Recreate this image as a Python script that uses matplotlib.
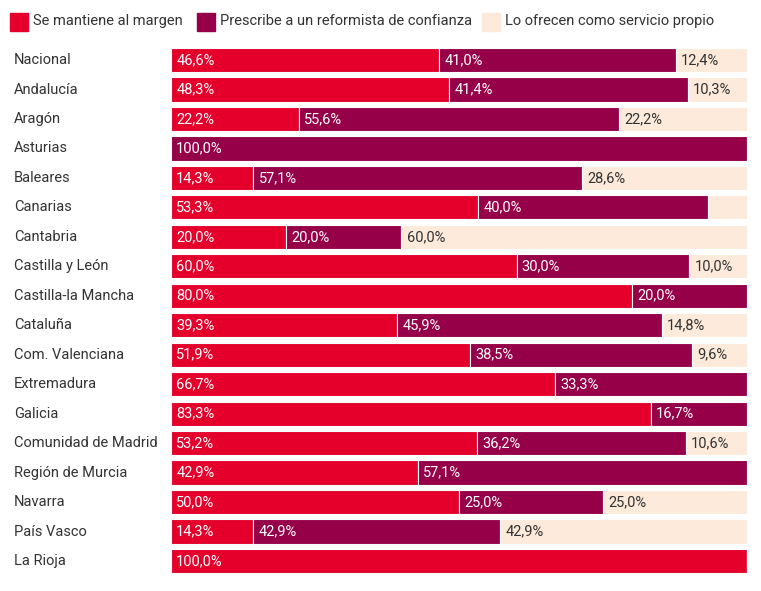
import matplotlib.pyplot as plt
from matplotlib.patches import Rectangle

plt.rcParams['font.family'] = ['Roboto', 'DejaVu Sans']

regiones = [
    'Nacional', 'Andalucía', 'Aragón', 'Asturias', 'Baleares', 'Canarias',
    'Cantabria', 'Castilla y León', 'Castilla-la Mancha', 'Cataluña',
    'Com. Valenciana', 'Extremadura', 'Galicia', 'Comunidad de Madrid',
    'Región de Murcia', 'Navarra', 'País Vasco', 'La Rioja']

margen = [46.6, 48.3, 22.2, 0.0, 14.3, 53.3, 20.0, 60.0, 80.0, 39.3,
          51.9, 66.7, 83.3, 53.2, 42.9, 50.0, 14.3, 100.0]
prescribe = [41.0, 41.4, 55.6, 100.0, 57.1, 40.0, 20.0, 30.0, 20.0, 45.9,
             38.5, 33.3, 16.7, 36.2, 57.1, 25.0, 42.9, 0.0]
propio = [12.4, 10.3, 22.2, 0.0, 28.6, 6.7, 60.0, 10.0, 0.0, 14.8,
          9.6, 0.0, 0.0, 10.6, 0.0, 25.0, 42.9, 0.0]

series = ['Se mantiene al margen', 'Prescribe a un reformista de confianza',
          'Lo ofrecen como servicio propio']
colores = ['#e4002b', '#960048', '#fdeadb']
txt_colores = ['white', 'white', '#333333']

# rows where the segment is drawn but not labelled
sin_etiqueta = {('Canarias', 2)}


def fmt(v):
    return f'{v:.1f}'.replace('.', ',') + '%'


fig = plt.figure(figsize=(7.61, 5.91), dpi=100)
ax = fig.add_axes([171 / 761, 1 - 575.7 / 591, 576 / 761, 530.4 / 591])

ypos = list(range(len(regiones)))
izq = [0.0] * len(regiones)
for k, vals in enumerate([margen, prescribe, propio]):
    ax.barh(ypos, vals, left=izq, height=0.82, color=colores[k],
            edgecolor='white', linewidth=0.8)
    for i, v in enumerate(vals):
        if v <= 0 or (regiones[i], k) in sin_etiqueta:
            continue
        ax.text(izq[i] + 0.9, i, fmt(v), va='center', ha='left',
                color=txt_colores[k], fontsize=10.5)
    izq = [a + b for a, b in zip(izq, vals)]

ax.set_xlim(0, 100)
ax.set_ylim(len(regiones) - 0.5, -0.5)
ax.axis('off')

for i, r in enumerate(regiones):
    ax.text(-157 / 576 * 100, i, r, va='center', ha='left',
            color='#333333', fontsize=10.5)

# legend drawn by hand at the top
leg_x = [10, 197, 482]
for k, s in enumerate(series):
    fig.patches.append(Rectangle(
        (leg_x[k] / 761, 1 - 31 / 591), 18 / 761, 18 / 591,
        transform=fig.transFigure, color=colores[k]))
    fig.text((leg_x[k] + 23) / 761, 1 - 21 / 591, s, va='center',
             ha='left', color='#333333', fontsize=10.5)

fig.savefig('out.png', dpi=100)
